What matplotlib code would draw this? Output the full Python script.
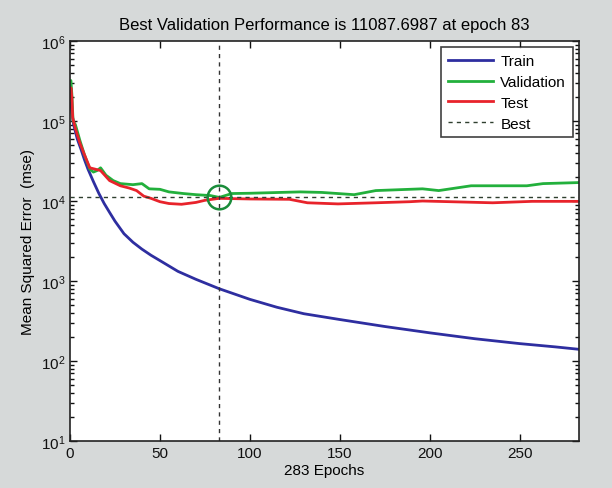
import matplotlib
matplotlib.use("Agg")
import matplotlib.pyplot as plt
from matplotlib.ticker import LogLocator, NullFormatter

plt.rcParams["font.family"] = ["Liberation Sans", "DejaVu Sans"]
plt.rcParams["mathtext.fontset"] = "custom"
plt.rcParams["mathtext.rm"] = "Liberation Sans"
plt.rcParams["mathtext.it"] = "Liberation Sans"

# ── data ──────────────────────────────────────
train_epochs = [0, 1, 2, 4, 6, 8, 10, 13, 16, 19, 22, 25, 30, 35, 40, 45, 50,
                60, 70, 83, 100, 115, 130, 150, 175, 200, 225, 250, 270, 283]
train_mse = [2.2e5, 1.3e5, 9.0e4, 6.0e4, 4.5e4, 3.3e4, 2.5e4, 1.75e4, 1.25e4,
             9.3e3, 7.2e3, 5.6e3, 3.9e3, 3.05e3, 2.5e3, 2.1e3, 1.8e3,
             1.32e3, 1.05e3, 800, 590, 470, 390, 330, 270, 225, 190, 165, 150, 140]

val_epochs = [0, 0.5, 1, 1.7, 3, 5.5, 8, 11, 13, 15, 17, 20, 24, 28, 35, 40, 44,
              50, 55, 63, 70, 78, 83, 90, 100, 128, 140, 158, 170, 196, 205,
              223, 254, 263, 283]
val_mse = [3.0e5, 3.2e5, 2.2e5, 1.0e5, 9.0e4, 5.7e4, 3.8e4, 2.5e4, 2.3e4,
           2.4e4, 2.6e4, 2.1e4, 1.8e4, 1.65e4, 1.6e4, 1.65e4, 1.42e4, 1.4e4,
           1.3e4, 1.24e4, 1.2e4, 1.17e4, 1.10877e4, 1.24e4, 1.25e4, 1.3e4,
           1.28e4, 1.2e4, 1.35e4, 1.42e4, 1.35e4, 1.55e4, 1.55e4, 1.65e4, 1.7e4]

test_epochs = [0, 0.5, 1, 1.5, 3, 5.5, 8, 11, 14, 17, 22, 28, 33, 37, 41, 45,
               50, 55, 62, 70, 75, 83, 100, 122, 132, 149, 170, 189, 196, 235,
               257, 283]
test_mse = [1.8e5, 2.6e5, 2.0e5, 1.1e5, 8.0e4, 5.3e4, 3.8e4, 2.6e4, 2.5e4,
            2.4e4, 1.8e4, 1.55e4, 1.45e4, 1.35e4, 1.15e4, 1.08e4, 9.8e3,
            9.3e3, 9.1e3, 9.6e3, 1.02e4, 1.08e4, 1.06e4, 1.05e4, 9.5e3,
            9.2e3, 9.5e3, 9.8e3, 1.0e4, 9.5e3, 9.9e3, 9.9e3]

best_epoch = 83
best_perf = 11087.6987
n_epochs = 283

# ── figure ────────────────────────────────────
fig = plt.figure(figsize=(6.12, 4.89), dpi=100, facecolor="#d6d9d9")
ax = fig.add_axes([0.1144, 0.0961, 0.8317, 0.818])
ax.set_facecolor("white")

ax.plot(train_epochs, train_mse, color="#2e2ea0", lw=2, label="Train")
ax.plot(val_epochs, val_mse, color="#22b03c", lw=2, label="Validation")
ax.plot(test_epochs, test_mse, color="#e8232b", lw=2, label="Test")
ax.axhline(best_perf, color="#2f3f2f", lw=1, ls=(0, (3, 3)), label="Best")
ax.axvline(best_epoch, color="#333333", lw=1, ls=(0, (3, 3)))
ax.plot([best_epoch], [best_perf], "o", ms=17, mfc="none",
        mec="#1a8c3a", mew=1.8)

ax.set_yscale("log")
ax.set_xlim(0, n_epochs)
ax.set_ylim(10, 1e6)
ax.set_xticks([0, 50, 100, 150, 200, 250])
ax.yaxis.set_major_locator(LogLocator(base=10, numticks=10))
ax.yaxis.set_minor_locator(LogLocator(base=10, subs=range(2, 10), numticks=20))
ax.yaxis.set_minor_formatter(NullFormatter())

ax.tick_params(which="both", direction="in", top=True, right=True,
               labelsize=11, width=1, colors="#111111")
ax.tick_params(which="major", length=5)
ax.tick_params(which="minor", length=3)
for sp in ax.spines.values():
    sp.set_linewidth(1.2)
    sp.set_color("#222222")

ax.set_title(f"Best Validation Performance is {best_perf:.4f} at epoch {best_epoch}",
             fontsize=12, pad=9)
ax.set_xlabel(f"{n_epochs} Epochs", fontsize=11, labelpad=2)
ax.set_ylabel("Mean Squared Error  (mse)", fontsize=11, labelpad=4)

leg = ax.legend(loc="upper right", fontsize=11, frameon=True, fancybox=False,
                edgecolor="#111111", handlelength=2.9, borderpad=0.45,
                labelspacing=0.45, handletextpad=0.5, borderaxespad=0.4)
leg.get_frame().set_linewidth(1.2)

fig.savefig("out.png", dpi=100, facecolor=fig.get_facecolor())
